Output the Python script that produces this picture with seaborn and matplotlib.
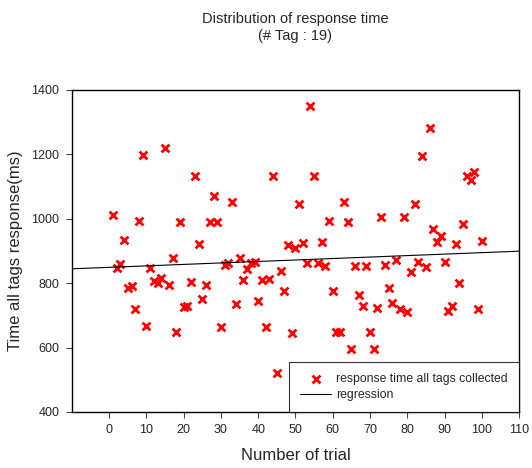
import pandas as pd
import seaborn as sns
import matplotlib.pyplot as plt

trials = list(range(1, 101))
response_ms = [
    1012, 848, 859, 934, 786, 791, 720, 994, 1198, 668,
    848, 807, 801, 817, 1219, 795, 877, 647, 990, 725,
    730, 805, 1133, 922, 750, 795, 990, 1071, 990, 663,
    856, 862, 1051, 734, 877, 810, 845, 864, 867, 745,
    810, 663, 812, 1133, 520, 838, 776, 919, 644, 908,
    1046, 924, 862, 1350, 1133, 862, 929, 853, 994, 776,
    647, 647, 1051, 991, 596, 853, 763, 730, 853, 647,
    595, 724, 1005, 857, 784, 740, 872, 719, 1005, 712,
    834, 1047, 867, 1194, 851, 1281, 968, 929, 947, 867,
    714, 730, 922, 801, 984, 1133, 1120, 1146, 720, 932,
]
x_ticks = list(range(0, 111, 10))
y_ticks = list(range(400, 1401, 200))

df = pd.DataFrame({'trial': trials, 'ms': response_ms})

sns.set_style("ticks")
plt.rcParams['font.family'] = ['Liberation Sans', 'DejaVu Sans']

fig = plt.figure(figsize=(5.32, 4.68), dpi=100)
ax = fig.add_axes([0.1353, 0.1197, 0.8403, 0.688])

ax.set_xlim(-10, 110)
ax.set_ylim(400, 1400)

sns.regplot(
    x='trial',
    y='ms',
    data=df,
    ax=ax,
    ci=None,
    truncate=False,
    marker='x',
    scatter_kws={'color': 'red', 's': 32, 'linewidths': 2, 'alpha': 1},
    line_kws={'color': 'black', 'linewidth': 0.8},
)

ax.set_xticks(x_ticks)
ax.set_yticks(y_ticks)
ax.tick_params(axis='both', labelsize=9, length=4, width=0.8, color='#444444', pad=5)
for s in ax.spines.values():
    s.set_linewidth(1.0)
    s.set_color('black')

ax.set_xlabel("Number of trial", fontsize=12, labelpad=8)
ax.set_ylabel("Time all tags response(ms)", fontsize=12, labelpad=6)
ax.set_title("Distribution of response time\n(# Tag : 19)", fontsize=10.5, pad=36,
             linespacing=1.3)

handles = [ax.collections[0], ax.lines[0]]
labels = ['response time all tags collected', 'regression']
leg = ax.legend(handles, labels, loc='lower right', borderaxespad=0, fontsize=8.8,
                fancybox=False, frameon=True, scatterpoints=1, handlelength=2.5,
                handletextpad=0.45, borderpad=0.9, labelspacing=0.3)
leg.get_frame().set_edgecolor('black')
leg.get_frame().set_linewidth(0.8)

plt.savefig("out.png", dpi=100)
